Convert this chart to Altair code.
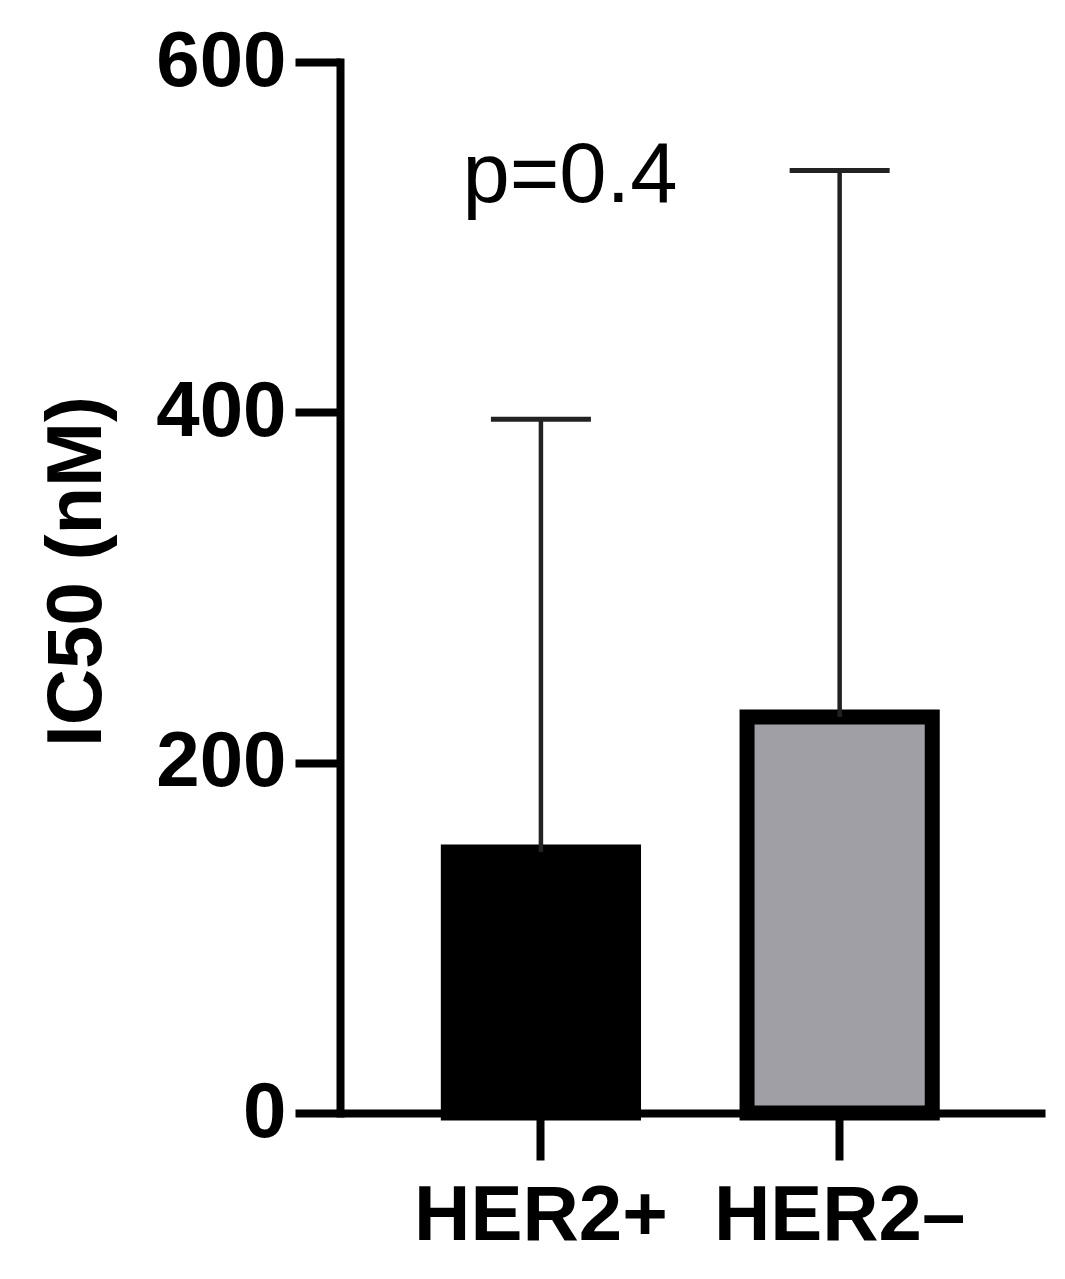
import altair as alt
import pandas as pd

# ---- data ----
groups = ["HER2+", "HER2\u2013"]
means = [149, 226]          # IC50 mean (nM)
uppers = [396, 538]         # mean + SD (nM)
fills = ["#000000", "#a09fa5"]
y_ticks = [0, 200, 400, 600]
p_text = ["p=0.4"]
p_group = ["HER2+"]
p_value = [520]

df = pd.DataFrame({"group": groups, "mean": means, "upper": uppers})
ann = pd.DataFrame({"group": p_group, "y": p_value, "label": p_text})

FONT = "Liberation Sans"

x = alt.X(
    "group:N",
    sort=groups,
    scale=alt.Scale(paddingInner=0.38, paddingOuter=0.37, align=0.49),
    axis=alt.Axis(
        title=None,
        labelAngle=0,
        labelFontSize=78,
        labelFontWeight="bold",
        labelColor="black",
        labelPadding=17,
        labelLimit=600,
        tickSize=47,
        tickWidth=8,
        tickColor="black",
        domainWidth=8,
        domainColor="black",
        zindex=1,
    ),
)

y_scale = alt.Scale(domain=[0, 600], nice=False, zero=True)
y_axis = alt.Axis(
    title="IC50 (nM)",
    values=y_ticks,
    grid=False,
    labelFontSize=78,
    labelFontWeight="bold",
    labelColor="black",
    labelPadding=9,
    tickSize=45,
    tickWidth=8,
    tickColor="black",
    domainWidth=8,
    domainColor="black",
    domainCap="square",
    titleFontSize=78,
    titleFontWeight="bold",
    titleColor="black",
    titleAngle=270,
    titleX=-240,
    titleY=509,
    titleAlign="center",
    titleBaseline="alphabetic",
    zindex=1,
)

bars = alt.Chart(df).mark_bar(stroke="black", strokeWidth=15, y2Offset=-4).encode(
    x=x,
    y=alt.Y("mean:Q", scale=y_scale, axis=y_axis),
    color=alt.Color("group:N", scale=alt.Scale(domain=groups, range=fills), legend=None),
)

err = alt.Chart(df).mark_rule(color="#222222", strokeWidth=4.5, opacity=1).encode(
    x=alt.X("group:N", sort=groups),
    y=alt.Y("mean:Q", scale=y_scale),
    y2="upper:Q",
)

caps = alt.Chart(df).mark_tick(
    color="#222222", thickness=5, size=100, orient="horizontal", opacity=1
).encode(
    x=alt.X("group:N", sort=groups),
    y=alt.Y("upper:Q", scale=y_scale),
)

ptext = alt.Chart(ann).mark_text(
    font=FONT, fontSize=85, fontWeight="normal", color="black",
    align="center", baseline="alphabetic", dx=29,
).encode(
    x=alt.X("group:N", sort=groups),
    y=alt.Y("y:Q", scale=y_scale),
    text="label:N",
)

chart = (
    alt.layer(bars, err, caps, ptext)
    .properties(
        width=705,
        height=1051,
        autosize=alt.AutoSizeParams(type="none"),
        padding={"left": 332, "top": 54, "right": 12, "bottom": 150},
    )
    .configure(font=FONT)
    .configure_view(stroke=None)
    .configure_axis(labelFont=FONT, titleFont=FONT)
)

chart.save("out.html", embed_options={"renderer": "svg", "actions": False})
